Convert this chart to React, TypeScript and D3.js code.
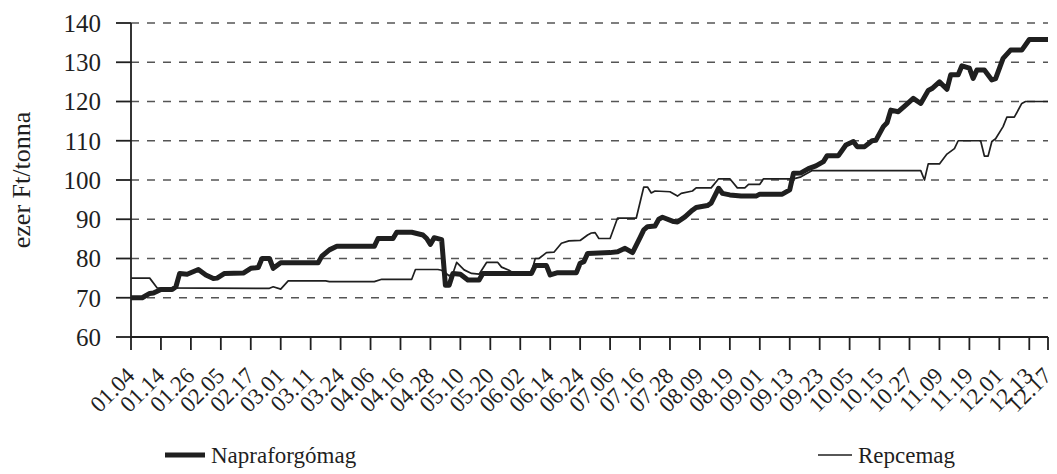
import * as d3 from "d3"

const dateLabels = [
  "01.04", "01.14", "01.26", "02.05", "02.17", "03.01", "03.11", "03.24",
  "04.06", "04.16", "04.28", "05.10", "05.20", "06.02", "06.14", "06.24",
  "07.06", "07.16", "07.28", "08.09", "08.19", "09.01", "09.13", "09.23",
  "10.05", "10.15", "10.27", "11.09", "11.19", "12.01", "12.13", "12.17",
]
const daysPerLabel = 8
const lastDay = 245

const yTicks = [60, 70, 80, 90, 100, 110, 120, 130, 140]

// [trading day index, ezer Ft/tonna]
const napraforgomag: [number, number][] = [
  [0, 70.0], [3, 70.0], [5, 71.1], [6, 71.2], [8, 72.1], [11, 72.1], [12, 72.8], [13, 76.2],
  [15, 76.0], [18, 77.2], [20, 75.8], [22, 74.9], [23, 75.0], [25, 76.2], [30, 76.3], [32, 77.5],
  [34, 77.7], [35, 80.0], [37, 80.0], [38, 77.5], [40, 78.9], [50, 78.9], [51, 80.6], [53, 82.2],
  [55, 83.1], [65, 83.1], [66, 85.1], [70, 85.1], [71, 86.7], [75, 86.7], [78, 86.0], [79, 85.1],
  [80, 83.6], [81, 85.3], [83, 84.8], [84, 73.2], [85, 73.2], [86, 76.2], [88, 76.0], [90, 74.5],
  [93, 74.5], [94, 76.2], [107, 76.2], [108, 78.2], [111, 78.2], [112, 75.8], [114, 76.4],
  [119, 76.4], [120, 78.8], [121, 79.2], [122, 81.3], [128, 81.5], [130, 81.7], [132, 82.6],
  [134, 81.5], [136, 85.3], [137, 87.3], [138, 88.1], [140, 88.3], [141, 90.0], [142, 90.5],
  [145, 89.4], [146, 89.3], [148, 90.6], [150, 92.3], [151, 93.0], [154, 93.5], [155, 94.1],
  [157, 97.9], [158, 96.6], [160, 96.2], [163, 95.9], [167, 95.9], [168, 96.4], [174, 96.4],
  [176, 97.5], [177, 101.7], [179, 101.8], [181, 102.9], [183, 103.6], [185, 104.7], [186, 106.2],
  [189, 106.2], [191, 108.9], [193, 109.8], [194, 108.5], [196, 108.5], [198, 110.0], [199, 110.1],
  [201, 113.6], [202, 114.6], [203, 117.8], [205, 117.4], [207, 119.1], [209, 120.8], [211, 119.5],
  [213, 122.8], [214, 123.3], [216, 125.0], [218, 123.1], [219, 126.8], [221, 126.8], [222, 129.1],
  [224, 128.5], [225, 125.9], [226, 128.0], [228, 128.0], [230, 125.5], [231, 125.8], [233, 131.0],
  [235, 133.1], [238, 133.1], [240, 135.8], [245, 135.8],
]

const repcemag: [number, number][] = [
  [0, 75.0], [5, 75.0], [7, 72.5], [37, 72.4], [38, 72.8], [40, 72.2], [42, 74.3], [52, 74.3],
  [53, 74.1], [65, 74.1], [67, 74.7], [75, 74.7], [76, 77.2], [82, 77.2], [83, 77.0], [85, 75.6],
  [86, 76.2], [87, 79.0], [89, 77.1], [91, 76.2], [93, 76.0], [95, 79.0], [98, 79.0], [99, 77.8],
  [101, 77.0], [102, 76.4], [107, 76.4], [108, 80.0], [109, 80.0], [111, 81.5], [113, 81.6],
  [115, 83.9], [117, 84.5], [120, 84.6], [122, 86.0], [123, 86.5], [124, 86.6], [125, 85.1],
  [128, 85.1], [130, 90.3], [135, 90.3], [137, 98.2], [138, 98.2], [139, 96.7], [140, 97.2],
  [144, 97.0], [146, 95.9], [147, 96.6], [150, 97.2], [151, 98.0], [155, 98.0], [157, 100.3],
  [160, 100.3], [162, 98.0], [164, 98.0], [165, 98.9], [168, 98.9], [169, 100.3], [177, 100.3],
  [179, 100.8], [182, 102.4], [211, 102.4], [212, 100.0], [213, 104.1], [216, 104.1], [218, 106.6],
  [220, 108.0], [221, 110.0], [227, 110.0], [228, 106.1], [229, 106.1], [230, 109.8], [231, 110.5],
  [233, 113.6], [234, 116.0], [236, 116.0], [238, 119.5], [239, 120.0], [245, 120.0],
]

const seriesNames = ["Napraforgómag", "Repcemag"]

const W = 1057
const H = 474
const margin = { left: 131, right: 9, top: 23, bottom: 137 }
const font = '"Liberation Serif"'
const ink = "#1f1f1f"

export default function App() {
  const x = d3.scaleLinear().domain([0, lastDay]).range([margin.left, W - margin.right])
  const y = d3.scaleLinear().domain([60, 140]).range([H - margin.bottom, margin.top])

  const line = d3
    .line<[number, number]>()
    .x((d) => x(d[0]))
    .y((d) => y(d[1]))

  const tickDays = dateLabels.map((_, i) => (i < dateLabels.length - 1 ? i * daysPerLabel : lastDay))
  const x0 = x(0)
  const x1 = x(lastDay)
  const yBase = y(60)
  const txt = { fontFamily: font, fill: ink }

  return (
    <svg width={W} height={H} style={{ position: "absolute", left: 0, top: 0, background: "#fff" }}>
      {/* dashed gridlines */}
      {yTicks.slice(1).map((t) => (
        <line key={"g" + t} x1={x0} x2={x1} y1={y(t)} y2={y(t)} stroke="#555" strokeWidth={1.3} strokeDasharray="8,8" />
      ))}

      {/* y axis */}
      <line x1={x0} x2={x0} y1={y(140)} y2={yBase} stroke={ink} strokeWidth={1.8} />
      {yTicks.map((t) => (
        <g key={"y" + t}>
          <line x1={x0 - 15} x2={x0} y1={y(t)} y2={y(t)} stroke={ink} strokeWidth={1.8} />
          <text x={x0 - 30} y={y(t)} dy="0.35em" textAnchor="end" fontSize={25} style={txt}>
            {t}
          </text>
        </g>
      ))}
      <text transform={`translate(30,${y(100)}) rotate(-90)`} textAnchor="middle" fontSize={26} style={txt}>
        ezer Ft/tonna
      </text>

      {/* x axis */}
      <line x1={x0} x2={x1} y1={yBase} y2={yBase} stroke={ink} strokeWidth={1.8} />
      {tickDays.map((d, i) => (
        <g key={"x" + i}>
          <line x1={x(d)} x2={x(d)} y1={yBase} y2={yBase + 13} stroke={ink} strokeWidth={1.8} />
          <text transform={`translate(${x(d) + 5},${yBase + 40}) rotate(-45)`} textAnchor="end" fontSize={23} style={txt}>
            {dateLabels[i]}
          </text>
        </g>
      ))}

      {/* series */}
      <path d={line(repcemag) ?? ""} fill="none" stroke={ink} strokeWidth={1.7} strokeLinejoin="round" />
      <path d={line(napraforgomag) ?? ""} fill="none" stroke={ink} strokeWidth={5} strokeLinejoin="round" />

      {/* legend */}
      <line x1={165} x2={205} y1={455} y2={455} stroke={ink} strokeWidth={5} />
      <text x={211} y={455} dy="0.35em" fontSize={23} style={txt}>
        {seriesNames[0]}
      </text>
      <line x1={818} x2={852} y1={455} y2={455} stroke={ink} strokeWidth={1.7} />
      <text x={858} y={455} dy="0.35em" fontSize={23} style={txt}>
        {seriesNames[1]}
      </text>
    </svg>
  )
}
